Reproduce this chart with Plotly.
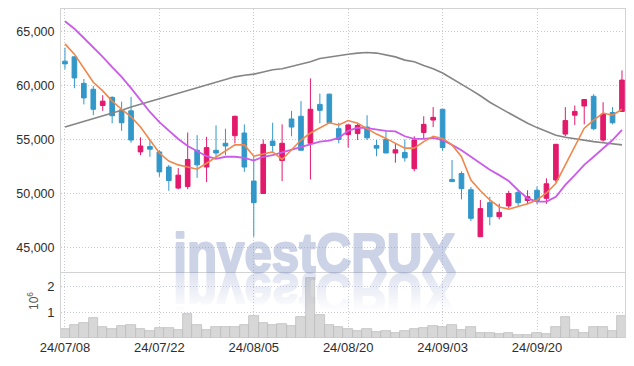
import plotly.graph_objects as go

# ---------------- data ----------------
dates = [
    "24/07/08", "24/07/09", "24/07/10", "24/07/11", "24/07/12", "24/07/15", "24/07/16", "24/07/17",
    "24/07/18", "24/07/19", "24/07/22", "24/07/23", "24/07/24", "24/07/25", "24/07/26", "24/07/29",
    "24/07/30", "24/07/31", "24/08/01", "24/08/02", "24/08/05", "24/08/06", "24/08/07", "24/08/08",
    "24/08/09", "24/08/12", "24/08/13", "24/08/14", "24/08/16", "24/08/19", "24/08/20", "24/08/21",
    "24/08/22", "24/08/23", "24/08/26", "24/08/27", "24/08/28", "24/08/29", "24/08/30", "24/09/02",
    "24/09/03", "24/09/04", "24/09/05", "24/09/06", "24/09/09", "24/09/10", "24/09/11", "24/09/12",
    "24/09/13", "24/09/19", "24/09/20", "24/09/23", "24/09/24", "24/09/25", "24/09/26", "24/09/27",
    "24/09/30", "24/10/02", "24/10/04", "24/10/07",
]

open_ = [
    62250, 62650, 60200, 59650, 58150, 58900, 57750, 57650, 53850, 54350,
    53850, 52450, 50500, 50650, 54000, 52450, 54000, 54650, 55350, 55600,
    51150, 50000, 54850, 53050, 56900, 57150, 54650, 58250, 59200, 56000,
    55450, 55550, 56150, 54450, 55000, 53750, 53800, 52300, 55650, 56800,
    57800, 51300, 51850, 50350, 46000, 49150, 47850, 48850, 50100, 49350,
    50300, 49550, 51250, 55500, 57250, 58100, 59000, 54950, 57500, 57600,
]
high = [
    63500, 62700, 60600, 59950, 59100, 59000, 58500, 58950, 55200, 54950,
    54000, 52650, 52350, 55650, 55400, 55250, 56300, 56000, 57200, 56400,
    53450, 55000, 56550, 56400, 57650, 58550, 60650, 59250, 59250, 56550,
    56400, 56550, 57250, 54950, 55850, 54650, 55000, 55300, 57150, 58000,
    57800, 53100, 52050, 50600, 49400, 49700, 49050, 50250, 50300, 50300,
    50650, 51400, 54600, 58000, 58150, 58700, 59200, 58450, 58000, 61400,
]
low = [
    61500, 59750, 58250, 57250, 57650, 56500, 55800, 54700, 53550, 53400,
    51550, 50250, 50400, 50400, 51450, 51050, 53250, 53550, 54650, 52000,
    46000, 49950, 53900, 51150, 55300, 54000, 51300, 56500, 56550, 54650,
    54250, 54950, 54950, 53450, 53750, 52850, 52950, 52050, 55100, 56150,
    53950, 51100, 49450, 47450, 46000, 47050, 47600, 48650, 48850, 49000,
    49000, 49050, 51050, 55300, 56350, 56400, 55850, 54800, 56400, 57600,
]
close = [
    62000, 60700, 58850, 57800, 58550, 57200, 56550, 54950, 54400, 54100,
    52000, 51200, 51700, 53150, 52650, 54250, 53750, 54400, 57150, 52450,
    49150, 54550, 54450, 54650, 56150, 54000, 57800, 57700, 56550, 55000,
    56350, 56300, 55150, 54200, 53750, 54050, 53300, 54950, 56400, 57050,
    54250, 51100, 50450, 47700, 48600, 47850, 48250, 50000, 49150, 49700,
    49350, 50900, 54550, 56750, 57600, 58700, 56000, 57350, 56550, 60500,
]

ma5 = [
    63850, 62900, 61600, 60300, 59500, 58550, 57800, 57100, 56150, 54950,
    53750, 53000, 52650, 52450, 52250, 52800, 53350, 53900, 54500, 54500,
    53450, 53650, 53850, 53150, 54050, 54950, 55600, 56050, 56550, 56350,
    56750, 56500, 56000, 55500, 55100, 54650, 54200, 54200, 54800, 55300,
    55100, 54500, 53400, 51250, 50250, 49400, 48750, 48550, 48800, 49050,
    49400, 50050, 50950, 52650, 54400, 56050, 56800, 57450, 57250, 57800,
]
ma20 = [
    65950, 65250, 64400, 63550, 62650, 61700, 60800, 59750, 58650, 57550,
    56600, 55800, 55050, 54400, 53950, 53450, 53200, 53400, 53400, 53300,
    53050, 53400, 53550, 53800, 54050, 54300, 54550, 54800, 54900, 55150,
    55800, 56100, 56050, 55900, 55800, 55750, 55300, 55050, 55050, 55150,
    54950, 54500, 54000, 53400, 52800, 52200, 51700, 51150, 50300, 49550,
    49250, 49250, 49700, 50800, 51700, 52650, 53400, 54200, 54950, 55900,
]
ma120 = [
    56150, 56400, 56700, 56950, 57200, 57450, 57700, 58000, 58250, 58500,
    58750, 59000, 59300, 59550, 59800, 60050, 60300, 60550, 60800, 60950,
    61050, 61250, 61450, 61550, 61750, 61950, 62200, 62500, 62650, 62800,
    62900, 63000, 63050, 63000, 62850, 62650, 62350, 62200, 61850, 61550,
    61150, 60650, 60150, 59600, 59050, 58450, 57950, 57450, 57000, 56500,
    56100, 55750, 55400, 55200, 55050, 54900, 54800, 54700, 54600, 54500,
]

volume_m = [
    0.34, 0.52, 0.60, 0.76, 0.42, 0.37, 0.48, 0.52, 0.34, 0.29,
    0.38, 0.38, 0.33, 0.92, 0.52, 0.33, 0.44, 0.42, 0.42, 0.52,
    0.85, 0.60, 0.50, 0.56, 0.48, 0.80, 2.33, 0.89, 0.52, 0.44,
    0.37, 0.26, 0.37, 0.22, 0.26, 0.18, 0.26, 0.34, 0.39, 0.46,
    0.42, 0.50, 0.33, 0.44, 0.21, 0.21, 0.17, 0.21, 0.13, 0.13,
    0.21, 0.17, 0.42, 0.80, 0.30, 0.21, 0.41, 0.41, 0.26, 0.85,
]

tick_dates = ["24/07/08", "24/07/22", "24/08/05", "24/08/20", "24/09/03", "24/09/20"]
price_ticks = [45000, 50000, 55000, 60000, 65000]
volume_ticks = [1, 2]

# ---------------- styles ----------------
UP = "#E3196B"
DOWN = "#3297C9"
GRID = "#C9CAD9"
FRAME = "#D3D3D3"
FONT = "Liberation Sans, Arial, sans-serif"
TICKFONT = dict(family=FONT, size=13, color="#2E2E2E")
WM_COLOR = "rgb(135,152,200)"

fig = go.Figure()

fig.add_trace(go.Candlestick(
    x=dates, open=open_, high=high, low=low, close=close,
    increasing=dict(line=dict(color=UP, width=1), fillcolor=UP),
    decreasing=dict(line=dict(color=DOWN, width=1), fillcolor=DOWN),
    whiskerwidth=0, xaxis="x", yaxis="y", showlegend=False, hoverinfo="skip",
))
fig.add_trace(go.Scatter(x=dates, y=ma120, mode="lines", line=dict(color="#858585", width=1.6),
                         xaxis="x", yaxis="y", showlegend=False, hoverinfo="skip"))
fig.add_trace(go.Scatter(x=dates, y=ma20, mode="lines", line=dict(color="#CB5BEA", width=1.8),
                         xaxis="x", yaxis="y", showlegend=False, hoverinfo="skip"))
fig.add_trace(go.Scatter(x=dates, y=ma5, mode="lines", line=dict(color="#F0874C", width=1.6),
                         xaxis="x", yaxis="y", showlegend=False, hoverinfo="skip"))
fig.add_trace(go.Bar(x=dates, y=volume_m, xaxis="x2", yaxis="y2", showlegend=False,
                     marker=dict(color="#D7D7D7", line=dict(color="#B9B9B9", width=0.7)),
                     hoverinfo="skip"))

x_range = [-0.42, 59.32]
VOL_TOP = 66 / 329

common_x = dict(
    type="category", categoryorder="array", categoryarray=dates, range=x_range,
    tickvals=tick_dates, ticktext=tick_dates, showgrid=True, gridcolor=GRID,
    griddash="1px,2px", gridwidth=1, ticks="", zeroline=False,
)

fig.update_layout(
    width=634, height=366,
    margin=dict(l=61, r=9, t=9, b=28),
    paper_bgcolor="white", plot_bgcolor="white",
    showlegend=False, bargap=0,
    xaxis=dict(**common_x, anchor="y", domain=[0, 1], showticklabels=False,
               showline=True, linecolor=FRAME, linewidth=1, mirror=True,
               rangeslider=dict(visible=False)),
    xaxis2=dict(**common_x, anchor="y2", domain=[0, 1], showticklabels=True,
                tickfont=TICKFONT, showline=False),
    yaxis=dict(domain=[VOL_TOP, 1], range=[42730, 67083], tickvals=price_ticks,
               tickformat=",", showgrid=True, gridcolor=GRID, griddash="1px,2px",
               ticks="", zeroline=False, showline=True, linecolor=FRAME, mirror=True,
               ticklabelstandoff=3,
               tickfont=dict(family=FONT, size=12.5, color="#2E2E2E")),
    yaxis2=dict(domain=[0, VOL_TOP], range=[0, 2.57], tickvals=volume_ticks,
                showgrid=True, gridcolor=GRID, griddash="1px,2px", ticks="",
                zeroline=False, showline=True, linecolor=FRAME, mirror=True,
                ticklabelstandoff=3, tickfont=TICKFONT),
    annotations=[
        dict(text="investCRUX", xref="paper", yref="paper", x=0.4495, y=0.2596,
             xanchor="center", yanchor="middle", showarrow=False,
             font=dict(family=FONT, size=56, weight="bold", color=WM_COLOR)),
        dict(text="investCRUX", xref="paper", yref="paper", x=0.4495, y=0.1356,
             xanchor="center", yanchor="middle", showarrow=False,
             font=dict(family=FONT, size=56, weight="bold", color=WM_COLOR)),
        dict(text="10<sup>6</sup>", xref="paper", yref="paper", x=-28 / 564, y=0.1125,
             xanchor="center", yanchor="middle", showarrow=False, textangle=-90,
             font=dict(family=FONT, size=12, color="#555555")),
    ],
)

post_js = """
var gd = document.getElementById('{plot_id}');
var ns = 'http://www.w3.org/2000/svg';
var svg = gd.querySelector('svg.main-svg');
if (!document.getElementById('wmmask')) {
  var defs = document.createElementNS(ns, 'defs');
  var lg = document.createElementNS(ns, 'linearGradient');
  lg.setAttribute('id', 'wmgrad');
  lg.setAttribute('x1', '0'); lg.setAttribute('y1', '0');
  lg.setAttribute('x2', '0'); lg.setAttribute('y2', '1');
  [[0.25, 0.0], [0.85, 0.75]].forEach(function (s) {
    var st = document.createElementNS(ns, 'stop');
    st.setAttribute('offset', s[0]);
    st.setAttribute('stop-color', 'white');
    st.setAttribute('stop-opacity', s[1]);
    lg.appendChild(st);
  });
  defs.appendChild(lg);
  var mk = document.createElementNS(ns, 'mask');
  mk.setAttribute('id', 'wmmask');
  mk.setAttribute('maskUnits', 'objectBoundingBox');
  mk.setAttribute('maskContentUnits', 'objectBoundingBox');
  mk.setAttribute('x', '-0.1'); mk.setAttribute('y', '-0.1');
  mk.setAttribute('width', '1.2'); mk.setAttribute('height', '1.2');
  var r = document.createElementNS(ns, 'rect');
  r.setAttribute('x', '-0.1'); r.setAttribute('y', '-0.1');
  r.setAttribute('width', '1.2'); r.setAttribute('height', '1.2');
  r.setAttribute('fill', 'url(#wmgrad)');
  mk.appendChild(r);
  defs.appendChild(mk);
  svg.appendChild(defs);
}
var t0 = gd.querySelector('g.annotation[data-index="0"] text');
var t1 = gd.querySelector('g.annotation[data-index="1"] text');
[t0, t1].forEach(function (t, i) {
  if (!t) return;
  t.style.transformBox = 'fill-box';
  t.style.transformOrigin = 'center';
  t.style.transform = i === 0 ? 'scale(0.88,1)' : 'scale(0.88,-1)';
  t.style.stroke = 'rgb(135,152,200)';
  t.style.strokeWidth = '2.2px';
  t.style.strokeLinejoin = 'round';
  t.style.opacity = '0.42';
  if (i === 1) { t.setAttribute('mask', 'url(#wmmask)'); }
});
"""

fig.write_html("out.html", post_script=post_js)
